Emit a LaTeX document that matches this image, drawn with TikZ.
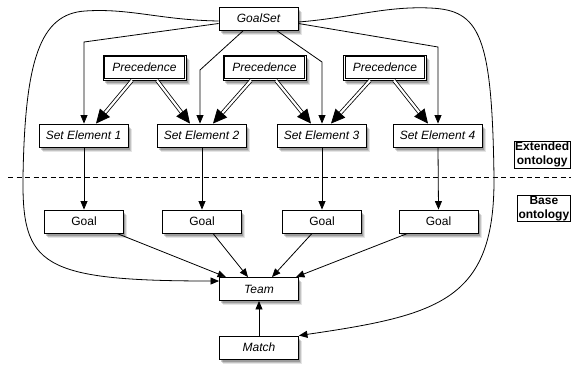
\documentclass[tikz,border=0pt]{standalone}
\usepackage{fontspec}
\setmainfont{Liberation Sans}
\usetikzlibrary{arrows.meta,shadows,calc}
\begin{document}
\begin{tikzpicture}[x=1pt,y=-1pt,
  box/.style={draw, line width=0.9pt, fill=white, minimum height=23pt, inner sep=1pt,
    font=\fontsize{12}{14}\selectfont\itshape,
    drop shadow={shadow xshift=3.5pt, shadow yshift=-4.5pt, opacity=0.10, fill=black},
    drop shadow={shadow xshift=2.5pt, shadow yshift=-3.5pt, opacity=0.15, fill=black},
    drop shadow={shadow xshift=1.5pt, shadow yshift=-2.5pt, opacity=0.2, fill=black}},
  goalbox/.style={box, font=\fontsize{12}{14}\selectfont},
  precbox/.style={box, minimum width=83pt, minimum height=25pt},
  inner/.style={draw, line width=0.7pt},
  lab/.style={draw, line width=0.6pt, inner sep=1pt, align=center, font=\fontsize{12}{13.5}\selectfont\bfseries},
  arr/.style={line width=0.8pt, -{Triangle[length=8.5pt,width=7pt]}},
  darr/.style={double, double distance=2.2pt, line width=0.8pt, -{Triangle[length=14pt,width=13pt]}},
]
\useasboundingbox (0,0) rectangle (571,365);

% nodes
\node[box, minimum width=79pt] (gs) at (258.5,18.5) {GoalSet};
\node[precbox] (p1) at (144.5,67.5) {Precedence};
\node[precbox] (p2) at (264.5,67.5) {Precedence};
\node[precbox] (p3) at (385,67.5) {Precedence};
\foreach \p in {p1,p2,p3}
  \draw[inner] ([shift={(2.2pt,2.2pt)}]\p.south west) rectangle ([shift={(-2.2pt,-2.2pt)}]\p.north east);
\node[box, minimum width=89pt] (s1) at (83.5,135.5) {Set Element 1};
\node[box, minimum width=89pt] (s2) at (201.5,135.5) {Set Element 2};
\node[box, minimum width=89pt] (s3) at (321.5,135.5) {Set Element 3};
\node[box, minimum width=89pt] (s4) at (437.5,135.5) {Set Element 4};
\node[goalbox, minimum width=79pt] (g1) at (84,221.5) {Goal};
\node[goalbox, minimum width=79pt] (g2) at (202,221.5) {Goal};
\node[goalbox, minimum width=79pt] (g3) at (322,221.5) {Goal};
\node[goalbox, minimum width=79pt] (g4) at (438.5,221.5) {Goal};
\node[box, minimum width=79pt] (team) at (259,289) {Team};
\node[box, minimum width=79pt] (match) at (259,347.5) {Match};

\node[lab, anchor=east] (ext) at (570.5,154.5) {Extended\\ontology};
\node[lab, anchor=east] (base) at (570.5,208.5) {Base\\ontology};

% dashed separator
\coordinate (dl) at (8,177);
\coordinate (dr) at (571,177);
\draw[line width=0.8pt, dash pattern=on 5pt off 3.5pt] (dl) -- (dr);

% GoalSet to set elements
\draw[arr] ([yshift=-5pt]gs.west) -- (84,42) -- ([xshift=0.5pt]s1.north);
\draw[arr] ([xshift=-15pt]gs.south) -- (200,70) -- ([xshift=-1.5pt]s2.north);
\draw[arr] ([xshift=18pt]gs.south) -- (322,62) -- ([xshift=0.5pt]s3.north);
\draw[arr] ([yshift=-5pt]gs.east) -- (438,47) -- ([xshift=0.5pt]s4.north);

% precedence double arrows
\draw[darr] ([xshift=-12.5pt]p1.south) -- ([xshift=12.5pt]s1.north);
\draw[darr] ([xshift=12.5pt]p1.south) -- ([xshift=-11.5pt]s2.north);
\draw[darr] ([xshift=-13.5pt]p2.south) -- ([xshift=11.5pt]s2.north);
\draw[darr] ([xshift=11.5pt]p2.south) -- ([xshift=-10.5pt]s3.north);
\draw[darr] ([xshift=-15pt]p3.south) -- ([xshift=9.5pt]s3.north);
\draw[darr] ([xshift=9pt]p3.south) -- ([xshift=-9.5pt]s4.north);

% set elements to goals
\draw[arr] ([xshift=0.5pt]s1.south) -- (g1.north);
\draw[arr] ([xshift=0.5pt]s2.south) -- (g2.north);
\draw[arr] ([xshift=0.5pt]s3.south) -- (g3.north);
\draw[arr] ([xshift=0.5pt]s4.south) -- (g4.north);

% goals to team
\draw[arr] ([xshift=-7pt]g1.south east) -- ([xshift=7pt]team.north west);
\draw[arr] ([xshift=11pt]g2.south) -- ([xshift=-11pt]team.north);
\draw[arr] ([xshift=-10pt]g3.south) -- ([xshift=13pt]team.north);
\draw[arr] ([xshift=9pt]g4.south west) -- ([xshift=-3pt]team.north east);

% match to team
\draw[arr] (match.north) -- (team.south);

% big curves
\draw[arr] ([yshift=-2.5pt]gs.west) .. controls (160,20) and (130,8) .. (85,11)
  .. controls (40,14) and (25,60) .. (23,177)
  .. controls (22,265) and (40,281) .. ([yshift=8pt]team.west);
\draw[arr] ([yshift=-3.5pt]gs.east) .. controls (350,18) and (385,6) .. (430,8)
  .. controls (480,10) and (492,35) .. (494,177)
  .. controls (495,300) and (440,315) .. (match.north east);
\end{tikzpicture}
\end{document}
